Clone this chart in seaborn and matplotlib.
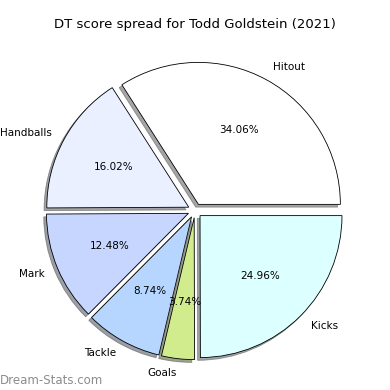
import matplotlib
matplotlib.use("Agg")
import matplotlib.pyplot as plt
import seaborn as sns

# -----------------------------
# Data
# -----------------------------
categories = ["Hitout", "Handballs", "Mark", "Tackle", "Goals", "Kicks"]
shares = [34.06, 16.02, 12.48, 8.74, 3.74, 24.96]
slice_colors = ["#ffffff", "#eaf0ff", "#c6d6ff", "#b6d6ff", "#d0ec8c", "#dcffff"]
player = "Todd Goldstein"
season = 2021

# -----------------------------
# Plot
# -----------------------------
sns.set_theme(style="white")
plt.rcParams["font.family"] = ["DejaVu Sans"]

fig = plt.figure(figsize=(3.9, 3.9), dpi=100)
ax = fig.add_axes([0.045, 0.005, 0.91, 0.91])

ax.pie(shares, labels=categories, colors=slice_colors,
       explode=[0.05] * len(shares),
       shadow={"ox": -0.014, "oy": -0.014},
       startangle=0,
       autopct="%1.2f%%", pctdistance=0.6, labeldistance=1.1,
       wedgeprops={"edgecolor": "black", "linewidth": 0.6},
       textprops={"fontsize": 7.5, "color": "black"})
ax.set_aspect("equal")

fig.suptitle(f"DT score spread for {player} ({season})", fontsize=9.5, y=0.955, color="black")
fig.text(0.0, 0.015, "Dream-Stats.com", fontsize=8.5, color="#8c8c8c")

plt.savefig("out.png", dpi=100)
plt.close()
